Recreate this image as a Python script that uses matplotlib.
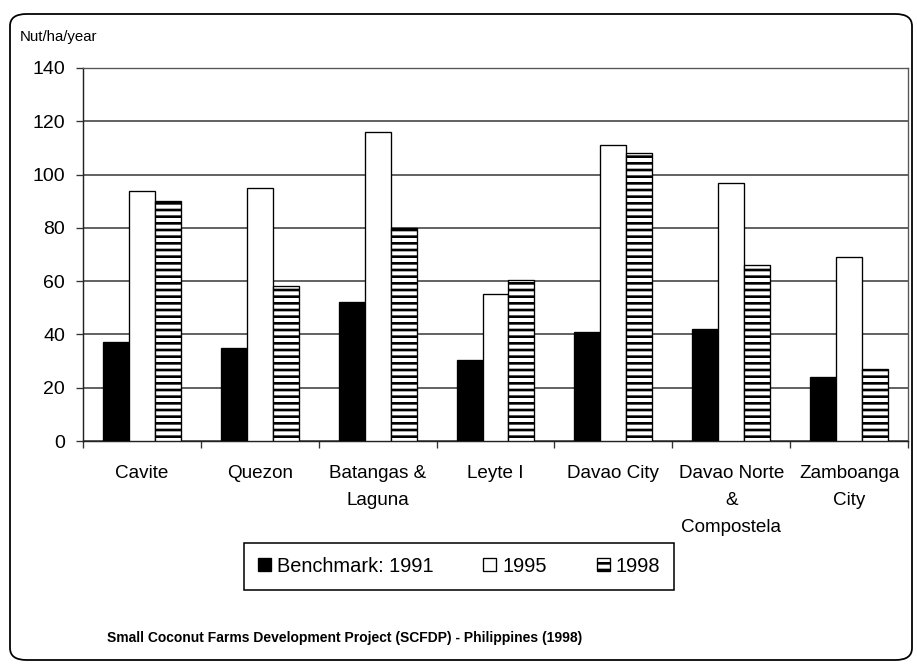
import matplotlib
matplotlib.use("Agg")
import matplotlib.pyplot as plt
import numpy as np
from matplotlib.patches import FancyBboxPatch

categories = ["Cavite", "Quezon", "Batangas &\nLaguna", "Leyte I", "Davao City",
              "Davao Norte\n&\nCompostela", "Zamboanga\nCity"]
benchmark_1991 = [37, 35, 52, 30.5, 41, 42, 24]
values_1995 = [94, 95, 116, 55, 111, 97, 69]
values_1998 = [90, 58, 80, 60.5, 108, 66, 27]
series_labels = ["Benchmark: 1991", "1995", "1998"]
y_ticks = [0, 20, 40, 60, 80, 100, 120, 140]

NARROW = ["Liberation Sans Narrow", "Liberation Sans", "DejaVu Sans"]
REG = ["Liberation Sans", "DejaVu Sans"]

plt.rcParams["hatch.linewidth"] = 2.4
plt.rcParams["hatch.color"] = "black"

DPI = 80
fig = plt.figure(figsize=(917 / DPI, 666 / DPI), dpi=DPI)
fig.patch.set_facecolor("white")

# rounded outer frame
frame = FancyBboxPatch((10 / 917, 6 / 666), 902 / 917, 646 / 666,
                       boxstyle="round,pad=0,rounding_size=0.018",
                       transform=fig.transFigure, fill=False,
                       edgecolor="black", linewidth=1.6, zorder=0)
fig.patches.append(frame)

ax = fig.add_axes([83 / 917, 1 - 441 / 666, (908 - 83) / 917, (441 - 68) / 666])

x = np.arange(len(categories))
w = 0.22
ax.bar(x - w, benchmark_1991, w, color="black", edgecolor="black", linewidth=1.2,
       label=series_labels[0], zorder=3)
ax.bar(x, values_1995, w, color="white", edgecolor="black", linewidth=1.2,
       label=series_labels[1], zorder=3)
ax.bar(x + w, values_1998, w, color="white", edgecolor="black", linewidth=1.2,
       hatch="--", label=series_labels[2], zorder=3)

ax.set_xlim(-0.5, len(categories) - 0.5)
ax.set_ylim(0, 140)
ax.set_yticks(y_ticks)
ax.yaxis.grid(True, color="#3a3a3a", linewidth=1.4)
ax.set_axisbelow(True)

ax.set_xticks(np.arange(-0.5, len(categories), 1.0))
ax.set_xticklabels([])
ax.set_xticks(x, minor=True)
ax.set_xticklabels(categories, minor=True, fontfamily=NARROW, fontsize=17,
                   linespacing=1.75)
ax.tick_params(axis="x", which="major", direction="out", length=6, width=1.2,
               color="#333333")
ax.tick_params(axis="x", which="minor", length=0, pad=22)
ax.tick_params(axis="y", direction="out", length=6, width=1.2, color="#333333",
               pad=10)
for lab in ax.get_yticklabels():
    lab.set_fontfamily(NARROW)
    lab.set_fontsize(17.5)

for side in ["left", "bottom"]:
    ax.spines[side].set_color("#222222")
    ax.spines[side].set_linewidth(1.3)
for side in ["top", "right"]:
    ax.spines[side].set_color("#555555")
    ax.spines[side].set_linewidth(1.2)

fig.text(20 / 917, 1 - 37 / 666, "Nut/ha/year", fontfamily=REG, fontsize=13.5,
         va="center", ha="left")

leg = ax.legend(loc="center", bbox_to_anchor=(459 / 917, 1 - 566 / 666),
                bbox_transform=fig.transFigure, ncol=3, frameon=True,
                fancybox=False, edgecolor="black", framealpha=1,
                prop={"family": NARROW, "size": 18},
                handlelength=0.65, handleheight=0.65, handletextpad=0.3,
                columnspacing=2.5, borderpad=0.7)
leg.get_frame().set_linewidth(1.4)

fig.text(107 / 917, 1 - 638 / 666,
         "Small Coconut Farms Development Project (SCFDP) - Philippines (1998)",
         fontfamily=NARROW, fontweight="bold", fontsize=12.5, va="center",
         ha="left")

fig.savefig("out.png", dpi=DPI, facecolor="white")
